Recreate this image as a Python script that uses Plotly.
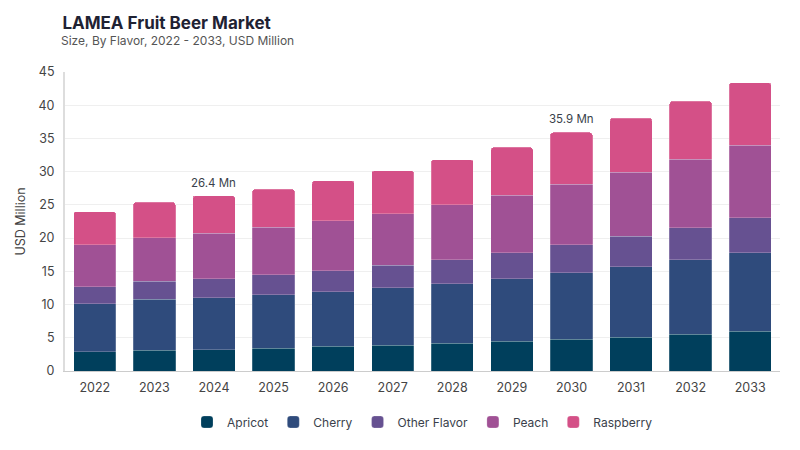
import plotly.graph_objects as go

years = [str(y) for y in range(2022, 2034)]

apricot = [2.9, 3.1, 3.2, 3.4, 3.7, 3.85, 4.15, 4.45, 4.8, 5.05, 5.5, 5.95]
cherry = [7.2, 7.7, 7.85, 8.1, 8.25, 8.7, 9.0, 9.45, 10.0, 10.65, 11.25, 11.85]
other_flavor = [2.6, 2.7, 2.85, 3.0, 3.15, 3.35, 3.6, 3.9, 4.2, 4.55, 4.8, 5.25]
peach = [6.3, 6.55, 6.8, 7.1, 7.5, 7.8, 8.25, 8.65, 9.1, 9.65, 10.3, 10.95]
raspberry = [5.0, 5.35, 5.7, 5.75, 6.05, 6.45, 6.8, 7.2, 7.8, 8.15, 8.75, 9.4]

series = [
    ("Apricot", apricot, "#003f5c"),
    ("Cherry", cherry, "#2f4b7c"),
    ("Other Flavor", other_flavor, "#665191"),
    ("Peach", peach, "#a05195"),
    ("Raspberry", raspberry, "#d45087"),
]

# totals shown as labels
labelled = {"2024": 26.4, "2030": 35.9}

fig = go.Figure()
for name, vals, col in series:
    fig.add_trace(go.Bar(
        x=years, y=vals, name=name,
        marker=dict(color=col, line=dict(color="rgba(255,255,255,0.35)", width=0.6)),
        hovertemplate="%{x}: %{y} Mn<extra>" + name + "</extra>",
    ))

for yr, tot in labelled.items():
    # category axis: numeric-looking strings get read as indices, so pass the index
    fig.add_annotation(
        x=years.index(yr), y=tot, text=f"{tot} Mn", showarrow=False, yshift=13,
        font=dict(size=11.5, color="#3a3f4b", family="Inter"),
    )

# subtitle under the title
fig.add_annotation(
    xref="paper", yref="paper", x=-0.008, y=1.104, xanchor="left", yanchor="middle",
    text="Size, By Flavor, 2022 - 2033, USD Million", showarrow=False,
    font=dict(size=12, color="#555555", family="Inter"),
)

fig.update_layout(
    barmode="stack",
    bargap=0.29,
    barcornerradius=3,
    width=800, height=450,
    margin=dict(l=55, r=28, t=64, b=87),
    paper_bgcolor="white",
    plot_bgcolor="white",
    font=dict(family="Inter", color="#3a3f4b"),
    title=dict(
        text="<b>LAMEA Fruit Beer Market</b>",
        x=0.068, xanchor="left", y=0.967, yanchor="middle",
        font=dict(size=17, color="#1f2233", family="Inter"),
    ),
    legend=dict(
        orientation="h", x=0.5, xanchor="center", y=-0.122, yanchor="top",
        font=dict(size=12, color="#3a3f4b"), itemwidth=30,
        traceorder="normal",
    ),
    xaxis=dict(
        type="category", range=[-0.5, len(years) - 0.5],
        showline=True, linecolor="#cccccc", linewidth=1,
        tickfont=dict(size=12.5, color="#444"), ticks="", ticklabelstandoff=5,
    ),
    yaxis=dict(
        range=[0, 45], dtick=5, showgrid=True, gridcolor="#efefef",
        showline=True, linecolor="#dddddd", linewidth=2,
        tickfont=dict(size=12.5, color="#444"), zeroline=False, ticklabelstandoff=6,
        title=dict(text="USD Million", font=dict(size=12.5, color="#444"), standoff=10),
    ),
)

fig.write_html("out.html")
